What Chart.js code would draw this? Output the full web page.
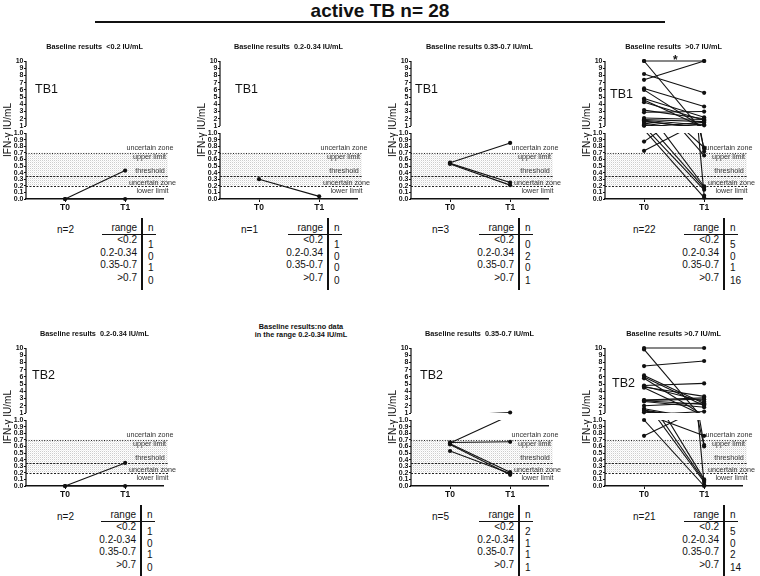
<!DOCTYPE html>
<html>
<head>
<meta charset="utf-8">
<script src="https://cdn.jsdelivr.net/npm/chart.js@4.4.0/dist/chart.umd.min.js"></script>
<style>
body { margin: 0; background: #fff; }
#fig { position: relative; width: 760px; height: 576px; overflow: hidden; color: #111; font-family: 'Liberation Sans', Arial, sans-serif; }
.abs { position: absolute; white-space: pre; }
canvas { position: absolute; }
</style>
</head>
<body>
<div id="fig"></div>
<script>
const timeLabels = ['T0', 'T1']
const upperTicks = [1, 2, 3, 4, 5, 6, 7, 8, 9, 10]
const lowerTicks = [0, 0.1, 0.2, 0.3, 0.4, 0.5, 0.6, 0.7, 0.8, 0.9, 1.0]
const cutoffs = [0.7, 0.35, 0.2]
const rangeLabels = ['<0.2', '0.2-0.34', '0.35-0.7', '>0.7']

// TB1 (top row), values at T0 and T1 per subject
const tb1LowT0 = [0.0, 0.0]
const tb1LowT1 = [0.43, 0.0]
const tb1LowN = [1, 0, 1, 0]
const tb1MidT0 = [0.30]
const tb1MidT1 = [0.04]
const tb1MidN = [1, 0, 0, 0]
const tb1UncT0 = [0.55, 0.54, 0.53]
const tb1UncT1 = [0.85, 0.25, 0.21]
const tb1UncN = [0, 2, 0, 1]
const tb1HighT0 = [10, 10, 8.2, 7.4, 6.2, 6.0, 4.8, 4.6, 4.3, 3.2, 2.9, 2.1, 1.9, 1.8, 1.7, 1.6, 1.4, 1.2, 1.1, 1.05, 0.87, 0.73]
const tb1HighT1 = [10, 0.05, 5.6, 10, 3.7, 0.72, 2.2, 0.76, 1.8, 2.0, 3.0, 1.9, 1.6, 1.1, 0.66, 0.78, 0.19, 0.17, 0.14, 0.02, 1.5, 1.2]
const tb1HighN = [5, 0, 1, 16]

// TB2 (bottom row)
const tb2MidT0 = [0.0, 0.0]
const tb2MidT1 = [0.35, 0.0]
const tb2MidN = [1, 0, 1, 0]
const tb2UncT0 = [0.65, 0.66, 0.64, 0.63, 0.53]
const tb2UncT1 = [1.07, 0.67, 0.21, 0.17, 0.19]
const tb2UncN = [2, 1, 1, 1]
const tb2HighT0 = [10, 9.8, 7.5, 6.2, 6.0, 5.8, 4.8, 4.7, 4.6, 4.5, 2.8, 2.75, 2.7, 2.6, 2.0, 1.6, 1.4, 1.3, 1.1, 1.0, 0.76]
const tb2HighT1 = [10, 0.02, 8.2, 2.3, 2.0, 0.62, 5.1, 2.6, 3.3, 0.60, 3.1, 2.9, 2.2, 1.8, 2.4, 0.10, 0.08, 0.06, 0.76, 0.0, 1.2]
const tb2HighN = [5, 0, 2, 14]

const family = "'Liberation Sans', Arial, sans-serif"
Chart.defaults.font.family = family

const panels = [
    { left: 0, top: 38, title: 'Baseline results  <0.2 IU/mL', tag: 'TB1', tagDx: 9, tagAt: 6.1, t0: tb1LowT0, t1: tb1LowT1, counts: tb1LowN, tableX: 142, nX: 57 },
    { left: 194, top: 38, title: 'Baseline results  0.2-0.34 IU/mL', tag: 'TB1', tagDx: 15, tagAt: 6.0, t0: tb1MidT0, t1: tb1MidT1, counts: tb1MidN, tableX: 328, nX: 241 },
    { left: 385, top: 38, title: 'Baseline results 0.35-0.7 IU/mL', tag: 'TB1', tagDx: 4, tagAt: 6.1, t0: tb1UncT0, t1: tb1UncT1, counts: tb1UncN, tableX: 519, nX: 432 },
    { left: 579, top: 38, title: 'Baseline results  >0.7 IU/mL', tag: 'TB1', tagDx: 5, tagAt: 5.3, t0: tb1HighT0, t1: tb1HighT1, counts: tb1HighN, tableX: 724, nX: 633, star: true },
    { left: 0, top: 325, title: 'Baseline results  0.2-0.34 IU/mL', tag: 'TB2', tagDx: 6, tagAt: 6.2, t0: tb2MidT0, t1: tb2MidT1, counts: tb2MidN, tableX: 141, nX: 57 },
    { left: 385, top: 325, title: 'Baseline results  0.35-0.7 IU/mL', tag: 'TB2', tagDx: 9, tagAt: 6.2, t0: tb2UncT0, t1: tb2UncT1, counts: tb2UncN, tableX: 519, nX: 432 },
    { left: 579, top: 325, title: 'Baseline results >0.7 IU/mL', tag: 'TB2', tagDx: 7, tagAt: 5.1, t0: tb2HighT0, t1: tb2HighT1, counts: tb2HighN, tableX: 724, nX: 633 }
]

const zoneNotes = [
    { text: 'uncertain zone', line: 0, dx: 124, dy: -4.5 },
    { text: 'upper limit', line: 0, dx: 123.5, dy: 4 },
    { text: 'threshold', line: 1, dx: 124, dy: -4.5 },
    { text: 'uncertain zone', line: 2, dx: 126.5, dy: -3.2 },
    { text: 'lower limit', line: 2, dx: 126.5, dy: 5 }
]
const zoneDashes = [[1, 1.6], [2.2, 1.2], [2, 1.5]]

const fig = document.getElementById('fig')

const text = (str, x, y, align, font) => {
    const d = document.createElement('div')
    d.className = 'abs'
    d.textContent = str
    d.style.font = font || '10px ' + family
    d.style.lineHeight = '1'
    d.style.top = y + 'px'
    if (align === 'right') d.style.right = (760 - x) + 'px'
    else d.style.left = x + 'px'
    d.style.transform = (align === 'center' ? 'translateX(-50%) ' : '') + 'translateY(-50%)'
    fig.appendChild(d)
}

const box = (x, y, w, h) => {
    const d = document.createElement('div')
    d.className = 'abs'
    Object.assign(d.style, { left: x + 'px', top: y + 'px', width: w + 'px', height: h + 'px', background: '#111' })
    fig.appendChild(d)
}

const patCanvas = document.createElement('canvas')
patCanvas.width = 2
patCanvas.height = 2
const pc = patCanvas.getContext('2d')
pc.fillStyle = '#ffffff'
pc.fillRect(0, 0, 2, 2)
pc.fillStyle = '#cdcdcd'
pc.fillRect(0, 0, 1, 1)
pc.fillStyle = '#efefef'
pc.fillRect(1, 1, 1, 1)

const deco = (p) => ({
    id: 'deco',
    beforeDatasetsDraw(chart) {
        const { ctx, chartArea: a, scales: { yL } } = chart
        const yTop = yL.getPixelForValue(cutoffs[0])
        const yBot = yL.getPixelForValue(cutoffs[2])
        ctx.save()
        ctx.fillStyle = ctx.createPattern(patCanvas, 'repeat')
        ctx.fillRect(a.left, yTop, a.right + 5 - a.left, yBot - yTop)
        ctx.strokeStyle = '#222'
        ctx.lineWidth = 1
        cutoffs.forEach((c, i) => {
            const y = Math.round(yL.getPixelForValue(c)) + 0.5
            ctx.setLineDash(zoneDashes[i])
            ctx.beginPath()
            ctx.moveTo(a.left, y)
            ctx.lineTo(a.right + 5, y)
            ctx.stroke()
        })
        ctx.setLineDash([])
        ctx.font = '7.2px ' + family
        ctx.fillStyle = '#333'
        ctx.textAlign = 'center'
        ctx.textBaseline = 'middle'
        zoneNotes.forEach(z => ctx.fillText(z.text, a.left + z.dx, yL.getPixelForValue(cutoffs[z.line]) + z.dy))
        ctx.restore()
    },
    beforeDatasetDraw(chart, args) {
        const ds = chart.data.datasets[args.index]
        if (!ds.cut) return
        const { ctx, chartArea: a, scales } = chart
        const s = scales[ds.yAxisID]
        let top, bottom
        if (ds.yAxisID === 'yU') {
            top = s.getPixelForValue(upperTicks[upperTicks.length - 1]) - 2
            bottom = s.getPixelForValue(upperTicks[0])
        } else {
            top = s.getPixelForValue(lowerTicks[lowerTicks.length - 1])
            bottom = s.getPixelForValue(lowerTicks[0]) + 2
        }
        ctx.save()
        ctx.beginPath()
        ctx.rect(a.left, top, a.right - a.left, bottom - top)
        ctx.clip()
    },
    afterDatasetDraw(chart, args) {
        if (chart.data.datasets[args.index].cut) chart.ctx.restore()
    },
    afterDraw(chart) {
        const { ctx, chartArea: a, scales: { x, yU, yL } } = chart
        ctx.save()
        ctx.strokeStyle = '#111'
        ctx.lineWidth = 1.2
        ctx.beginPath()
        ctx.moveTo(a.left, yU.getPixelForValue(upperTicks[upperTicks.length - 1]))
        ctx.lineTo(a.left, yU.getPixelForValue(upperTicks[0]))
        ctx.moveTo(a.left, yL.getPixelForValue(lowerTicks[lowerTicks.length - 1]))
        ctx.lineTo(a.left, yL.getPixelForValue(lowerTicks[0]))
        ctx.stroke()

        ctx.fillStyle = '#111'
        ctx.textAlign = 'center'
        ctx.textBaseline = 'middle'
        ctx.font = 'bold 7.3px ' + family
        ctx.fillText(p.title, (a.left + a.right) / 2, 9)

        ctx.textAlign = 'left'
        ctx.font = '12.5px ' + family
        ctx.fillText(p.tag, a.left + p.tagDx, yU.getPixelForValue(p.tagAt))

        if (p.star) {
            ctx.textAlign = 'center'
            ctx.textBaseline = 'alphabetic'
            ctx.font = 'bold 12px ' + family
            ctx.fillText('*', x.getPixelForValue(0.52), yU.getPixelForValue(10) + 3)
        }

        ctx.translate(8, (a.top + a.bottom) / 2)
        ctx.rotate(-Math.PI / 2)
        ctx.textAlign = 'center'
        ctx.textBaseline = 'middle'
        ctx.font = '10px ' + family
        ctx.fillText('IFN-γ IU/mL', 0, 0)
        ctx.restore()
    }
})

const tickFont = { size: 7, weight: 'bold', family: family }
const axisGrid = { drawOnChartArea: false, drawTicks: true, tickLength: 2, color: '#111', lineWidth: 1 }

const makeChart = (p) => {
    const cv = document.createElement('canvas')
    cv.width = 181
    cv.height = 179
    cv.style.left = p.left + 'px'
    cv.style.top = p.top + 'px'
    fig.appendChild(cv)

    const datasets = []
    p.t0.forEach((v, i) => {
        ['yU', 'yL'].forEach(ax => datasets.push({
            data: [{ x: 0, y: v }, { x: 1, y: p.t1[i] }],
            yAxisID: ax,
            showLine: true,
            borderColor: '#111',
            borderWidth: 1.1,
            pointRadius: 0,
            clip: false,
            cut: true
        }))
    })
    const pts = []
    p.t0.forEach((v, i) => {
        pts.push({ x: 0, y: v })
        pts.push({ x: 1, y: p.t1[i] })
    })
    const dotStyle = { showLine: false, pointRadius: 2.1, pointBackgroundColor: '#111', pointBorderWidth: 0, clip: false }
    datasets.push({ ...dotStyle, data: pts.filter(d => d.y > 1), yAxisID: 'yU' })
    datasets.push({ ...dotStyle, data: pts.filter(d => d.y <= 1), yAxisID: 'yL' })

    new Chart(cv, {
        type: 'scatter',
        data: { datasets: datasets },
        options: {
            responsive: false,
            animation: false,
            layout: { padding: { top: 23, right: 18, left: 0, bottom: 0 } },
            plugins: { legend: { display: false }, tooltip: { enabled: false } },
            scales: {
                x: {
                    type: 'linear',
                    min: -0.65,
                    max: 1.63,
                    afterBuildTicks: s => { s.ticks = timeLabels.map((t, i) => ({ value: i })) },
                    afterFit: s => { s.height = 18 },
                    ticks: { autoSkip: false, maxRotation: 0, padding: 1, color: '#111', font: { size: 8.5, weight: 'bold', family: family }, callback: v => timeLabels[v] },
                    grid: { ...axisGrid, tickLength: 3 },
                    border: { color: '#111', width: 1.5 }
                },
                // the lower segment is listed first: the layout stacks it below the upper one
                yL: {
                    type: 'linear',
                    position: 'left',
                    stack: 'ifn',
                    stackWeight: 66,
                    min: 0,
                    max: 1,
                    afterBuildTicks: s => { s.ticks = lowerTicks.map(v => ({ value: v })) },
                    afterFit: s => { s.width = 26 },
                    ticks: { autoSkip: false, padding: 0.5, color: '#111', font: tickFont, callback: v => v.toFixed(1) },
                    grid: axisGrid,
                    border: { display: false }
                },
                yU: {
                    type: 'linear',
                    position: 'left',
                    stack: 'ifn',
                    stackWeight: 72,
                    min: 0.031,
                    max: 10,
                    afterBuildTicks: s => { s.ticks = upperTicks.map(v => ({ value: v })) },
                    afterFit: s => { s.width = 26 },
                    ticks: { autoSkip: false, padding: 0.5, color: '#111', font: tickFont, callback: v => String(v) },
                    grid: axisGrid,
                    border: { display: false }
                }
            }
        },
        plugins: [deco(p)]
    })
}

const labelYs = [240, 252.5, 265, 277.7]
const valueYs = [245, 256.7, 268.3, 281]

const addTable = (p) => {
    const vx = p.tableX
    const dy = p.top - 38
    box(vx - 0.75, 218 + dy, 1.5, 72)
    box(vx - 40, 233.5 + dy, 54, 1.5)
    text('n=' + p.t0.length, p.nX, 230 + dy, 'left')
    text('range', vx - 5, 227.7 + dy, 'right')
    text('n', vx + 6, 227.7 + dy, 'left')
    rangeLabels.forEach((r, i) => {
        text(r, vx - 5, labelYs[i] + dy, 'right')
        text(String(p.counts[i]), vx + 6, valueYs[i] + dy, 'left')
    })
}

text('active TB n= 28', 380, 10, 'center', 'bold 19px ' + family)
box(95, 21, 570, 2)
text('Baseline results:no data', 301, 326.7, 'center', 'bold 7.3px ' + family)
text('in the range 0.2-0.34 IU/mL', 301, 334.5, 'center', 'bold 7.3px ' + family)

panels.forEach(p => {
    makeChart(p)
    addTable(p)
})
</script>
</body>
</html>
